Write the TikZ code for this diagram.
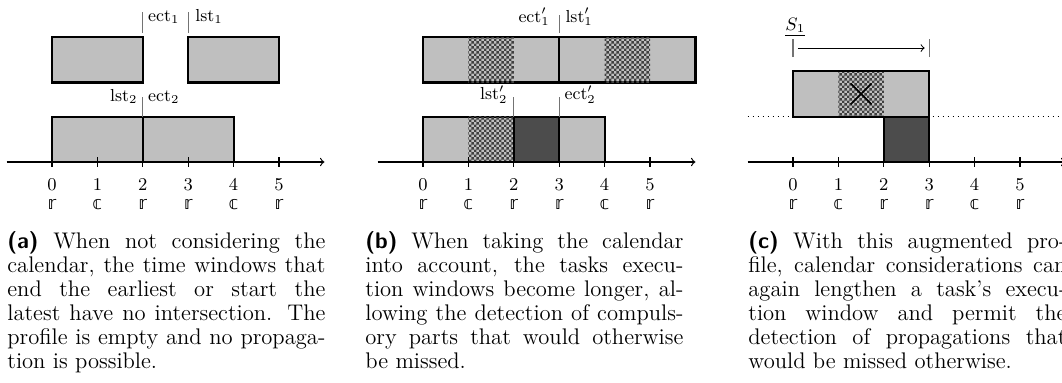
\documentclass[tikz,border=0pt]{standalone}
\usepackage{fontspec}
\newfontfamily\bbfont{DejaVu Sans}
\usetikzlibrary{patterns}
\definecolor{winbg}{gray}{0.75}
\definecolor{cpbg}{gray}{0.3}
\definecolor{chkfg}{gray}{0.25}
\definecolor{boundclr}{gray}{0.45}

% small checkerboard for calendar breaks
\pgfdeclarepatternformonly{finecheck}{\pgfpointorigin}{\pgfqpoint{2.7pt}{2.7pt}}%
  {\pgfqpoint{2.7pt}{2.7pt}}{%
  \pgfpathrectangle{\pgfpointorigin}{\pgfqpoint{1.35pt}{1.35pt}}%
  \pgfpathrectangle{\pgfqpoint{1.35pt}{1.35pt}}{\pgfqpoint{1.35pt}{1.35pt}}%
  \pgfusepath{fill}}

% time line with resource/calendar letters
\newcommand{\calaxis}[1]{%
  \draw[timeline] (-1,0) -- (6,0);
  \foreach \t/\k in {0/𝕣,1/𝕔,2/𝕣,3/𝕣,4/𝕔,5/𝕣}{
    \draw[tickline] (\t,-0.1) -- (\t,0.1);
    \node[ticklbl] (#1n\t) at (\t,-0.63) {$\t$};
    \node[ticklbl, font=\bbfont\fontsize{9}{10}\selectfont] (#1k\t) at (\t,-1.04) {\k};
  }}

\begin{document}
\begin{tikzpicture}[
    x=22.7pt, y=22.7pt,
    % --- shapes ---
    win/.style     ={draw, line width=1.1pt, fill=winbg},
    cal/.style     ={pattern=finecheck, pattern color=chkfg},
    cp/.style      ={draw, line width=1.1pt, fill=cpbg},
    % --- lines ---
    timeline/.style={->, line width=0.6pt},
    tickline/.style={line width=0.6pt},
    bound/.style   ={boundclr, line width=0.6pt},
    % --- text ---
    lbl/.style     ={font=\fontsize{8.7}{10.4}\selectfont, inner sep=0pt},
    ticklbl/.style ={lbl, anchor=base},
    captext/.style ={font=\fontsize{11.3}{12}\selectfont, inner sep=0pt,
                     text width=159pt, align=justify, anchor=base west},
]
\useasboundingbox (0,0) rectangle (531pt,-191pt);

% =============== (a) ===============
\begin{scope}[shift={(26pt,-81pt)}]
  \draw[win] (0,1.75) rectangle (2,2.75);
  \draw[win] (3,1.75) rectangle (5,2.75);
  \draw[win] (0,0) rectangle (2,1);
  \draw[win] (2,0) rectangle (4,1);
  \calaxis{a}
  \draw[bound] (2,2.84) -- (2,3.3);
  \node[lbl, anchor=base west] (ect1) at (2.11,3.1) {$\mathrm{ect}_1$};
  \draw[bound] (3,2.84) -- (3,3.3);
  \node[lbl, anchor=base west] (lst1) at (3.15,3.1) {$\mathrm{lst}_1$};
  \draw[bound] (2,1) -- (2,1.43);
  \node[lbl, anchor=base east] (lst2) at (1.89,1.34) {$\mathrm{lst}_2$};
  \node[lbl, anchor=base west] (ect2) at (2.11,1.34) {$\mathrm{ect}_2$};
\end{scope}

% =============== (b) ===============
\begin{scope}[shift={(211.5pt,-81pt)}]
  \draw[win] (0,1.75) rectangle (3,2.75);
  \draw[win] (3,1.75) rectangle (6,2.75);
  \fill[cal] (1,1.75) rectangle (2,2.75);
  \fill[cal] (4,1.75) rectangle (5,2.75);
  \draw[win] (0,0) rectangle (4,1);
  \fill[cal] (1,0) rectangle (2,1);
  \draw[cp] (2,0) rectangle (3,1);
  \calaxis{b}
  \draw[bound] (3,2.84) -- (3,3.24);
  \node[lbl, anchor=base east] (ect1p) at (2.8,3.08) {$\mathrm{ect}_1'$};
  \node[lbl, anchor=base west] (lst1p) at (3.13,3.08) {$\mathrm{lst}_1'$};
  \draw[bound] (2,1) -- (2,1.43);
  \draw[bound] (3,1) -- (3,1.43);
  \node[lbl, anchor=base east] (lst2p) at (1.87,1.37) {$\mathrm{lst}_2'$};
  \node[lbl, anchor=base west] (ect2p) at (3.11,1.37) {$\mathrm{ect}_2'$};
\end{scope}

% =============== (c) ===============
\begin{scope}[shift={(396.5pt,-81pt)}]
  \draw[dotted, line width=0.5pt] (-1,1) -- (6.5,1);
  \draw[win] (0,1) rectangle (3,2);
  \fill[cal] (1,1) rectangle (2,2);
  \draw[win, fill=none] (0,1) rectangle (3,2);
  \draw[line width=0.8pt] (1.27,1.27) -- (1.73,1.73) (1.27,1.73) -- (1.73,1.27);
  \draw[cp] (2,0) rectangle (3,1);
  \calaxis{c}
  \node[lbl, anchor=base] (s1) at (0.05,2.89) {$\underline{S_1}$};
  \draw[bound] (0,2.31) -- (0,2.71);
  \draw[bound] (3,2.31) -- (3,2.71);
  \coordinate (s1from) at (0.11,2.51);
  \coordinate (s1to) at (2.9,2.51);
  \draw[->, line width=0.5pt] (s1from) -- (s1to);
\end{scope}

% =============== captions ===============
\node[captext] (capa) at (3.5pt,-124pt)
  {{\sffamily\bfseries (a)} When not considering the\linebreak
   calendar, the time windows that\linebreak
   end the earliest or start the\linebreak
   latest have no intersection. The\linebreak
   profile is empty and no propaga-\linebreak
   tion is possible.};
\node[captext] (capb) at (182.5pt,-124pt)
  {{\sffamily\bfseries (b)} When taking the calendar\linebreak
   into account, the tasks execu-\linebreak
   tion windows become longer, al-\linebreak
   lowing the detection of compuls-\linebreak
   ory parts that would otherwise\linebreak
   be missed.};
\node[captext] (capc) at (374pt,-124pt)
  {{\sffamily\bfseries (c)} With this augmented pro-\linebreak
   file, calendar considerations can\linebreak
   again lengthen a task's execu-\linebreak
   tion window and permit the\linebreak
   detection of propagations that\linebreak
   would be missed otherwise.};
\end{tikzpicture}
\end{document}
